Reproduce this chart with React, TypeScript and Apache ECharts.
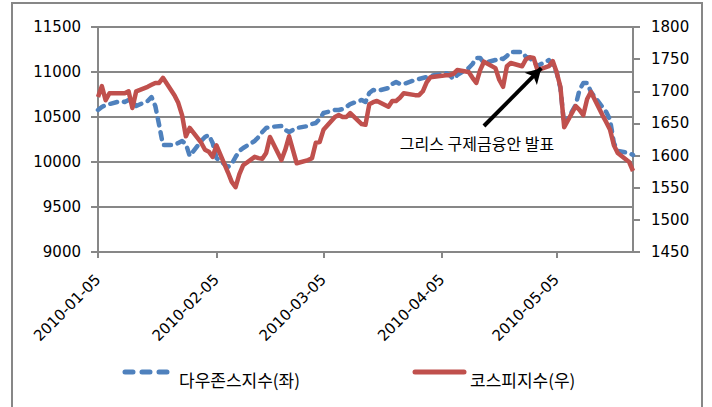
import React, { useEffect, useRef } from 'react';
import * as echarts from 'echarts';

// Calendar range of the date axis and the label day (every month's 5th)
const axisStart = [2010, 0, 5];
const axisEnd = [2010, 4, 25];
const labelDay = '05';

// Dow Jones (left axis) closing values, trading days by month
const dowJan = [10578, 10611, 10633, 10644, 10678, 10667, 10689, 10678, 10622, 10678, 10722, 10622, 10411, 10189, 10189, 10211, 10233, 10200, 10067];
const dowFeb = [10233, 10278, 10300, 10211, 10044, 9944, 9978, 10056, 10122, 10156, 10233, 10278, 10333, 10378, 10389, 10400, 10356, 10333, 10356, 10378];
const dowMar = [10400, 10422, 10433, 10478, 10544, 10578, 10578, 10589, 10611, 10644, 10689, 10667, 10767, 10800, 10789, 10822, 10867, 10889, 10867, 10867, 10911, 10922, 10933];
const dowApr = [10944, 10956, 10978, 10989, 10967, 10922, 10967, 11044, 11089, 11156, 11156, 11100, 11133, 11156, 11144, 11178, 11222, 11222, 11167, 11156, 11111, 11067];
const dowMay = [11133, 11078, 11000, 10822, 10411, 10633, 10800, 10878, 10878, 10778, 10611, 10556, 10467, 10211, 10122, 10100, 10078];

// KOSPI (right axis)
const kospiJan = [1691, 1708, 1686, 1697, 1697, 1697, 1700, 1674, 1700, 1707, 1710, 1713, 1713, 1721, 1694, 1682, 1663, 1630, 1643];
const kospiFeb = [1620, 1609, 1606, 1598, 1616, 1574, 1559, 1551, 1571, 1585, 1598, 1596, 1595, 1604, 1629, 1593, 1609, 1630, 1609, 1588];
const kospiMar = [1593, 1596, 1620, 1621, 1640, 1660, 1663, 1660, 1660, 1666, 1649, 1648, 1680, 1683, 1685, 1676, 1685, 1685, 1690, 1697, 1694, 1694, 1700];
const kospiApr = [1714, 1722, 1724, 1725, 1725, 1727, 1733, 1730, 1721, 1713, 1733, 1746, 1736, 1718, 1707, 1739, 1744, 1739, 1750, 1753, 1752, 1733];
const kospiMay = [1739, 1747, 1730, 1707, 1644, 1677, 1671, 1663, 1688, 1699, 1663, 1652, 1640, 1616, 1604, 1590, 1576];

const seriesNames = ['다우존스지수(좌)', '코스피지수(우)'];
const annotationText = '그리스 구제금융안 발표';
const arrowFrom = ['2010-04-16', 1646];
const arrowTo = ['2010-05-01', 1736];

const leftTicks = { min: 9000, max: 11500, interval: 500 };
const rightTicks = { min: 1450, max: 1800, interval: 50 };

const BLUE = '#4F81BD';
const RED = '#C0504D';
const GRAY = '#878787';

function buildCalendar(): string[] {
  const out: string[] = [];
  let t = Date.UTC(axisStart[0], axisStart[1], axisStart[2]);
  const e = Date.UTC(axisEnd[0], axisEnd[1], axisEnd[2]);
  while (t <= e) {
    out.push(new Date(t).toISOString().slice(0, 10));
    t += 86400000;
  }
  return out;
}

export default function App() {
  const ref = useRef<HTMLDivElement>(null);
  useEffect(() => {
    if (!ref.current) return;
    const chart = echarts.init(ref.current, undefined, { renderer: 'svg' });
    const calendar = buildCalendar();
    const tradingDays = calendar.filter((d) => {
      const w = new Date(d + 'T00:00:00Z').getUTCDay();
      return w !== 0 && w !== 6;
    });
    const dow = [...dowJan, ...dowFeb, ...dowMar, ...dowApr, ...dowMay];
    const kospi = [...kospiJan, ...kospiFeb, ...kospiMar, ...kospiApr, ...kospiMay];
    const isLabelDay = (_i: number, v: string) => v.slice(8) === labelDay;
    const numFont = { fontFamily: 'DejaVu Sans', fontSize: 15, color: '#000' };
    const plain = (v: number) => String(v);

    chart.setOption({
      animation: false,
      backgroundColor: '#fff',
      grid: { left: 98, right: 79, top: 27, bottom: 155, containLabel: false },
      xAxis: {
        type: 'category',
        data: calendar,
        boundaryGap: false,
        axisLine: { lineStyle: { color: GRAY, width: 2 } },
        axisTick: { interval: isLabelDay, length: 6, lineStyle: { color: GRAY, width: 2 } },
        axisLabel: { interval: isLabelDay, rotate: 45, margin: 25, ...numFont },
        splitLine: { show: false },
      },
      yAxis: [
        {
          type: 'value',
          position: 'left',
          ...leftTicks,
          axisLine: { show: true, lineStyle: { color: GRAY, width: 2 } },
          axisTick: { show: true, length: 7, lineStyle: { color: GRAY, width: 2 } },
          axisLabel: { margin: 17, formatter: plain, ...numFont },
          splitLine: { show: true, lineStyle: { color: GRAY, width: 2 } },
        },
        {
          type: 'value',
          position: 'right',
          ...rightTicks,
          axisLine: { show: true, lineStyle: { color: GRAY, width: 2 } },
          axisTick: { show: true, length: 7, lineStyle: { color: GRAY, width: 2 } },
          axisLabel: { margin: 18, formatter: plain, ...numFont },
          splitLine: { show: false },
        },
      ],
      series: [
        {
          name: seriesNames[0],
          type: 'line',
          yAxisIndex: 0,
          data: tradingDays.map((d, i) => [d, dow[i]]),
          symbol: 'none',
          lineStyle: { color: BLUE, width: 4.5, type: [7, 7], cap: 'round', join: 'round' },
          z: 2,
        },
        {
          name: seriesNames[1],
          type: 'line',
          yAxisIndex: 1,
          data: tradingDays.map((d, i) => [d, kospi[i]]),
          symbol: 'none',
          lineStyle: { color: RED, width: 4.5, join: 'round' },
          z: 3,
          markLine: {
            silent: true,
            symbol: ['none', 'arrow'],
            symbolSize: [13, 15],
            label: { show: false },
            lineStyle: { color: '#000', width: 4, type: 'solid' },
            data: [[{ coord: arrowFrom }, { coord: arrowTo }]],
          },
        },
      ],
      graphic: [
        {
          type: 'rect',
          shape: { x: 12, y: 3, width: 690, height: 420 },
          style: { fill: 'none', stroke: GRAY, lineWidth: 2 },
          silent: true,
        },
        {
          type: 'text',
          x: 477,
          y: 143,
          style: {
            text: annotationText,
            fontFamily: 'Noto Sans CJK KR',
            fontSize: 16,
            fill: '#000',
            textAlign: 'center',
            textVerticalAlign: 'middle',
          },
        },
        {
          type: 'line',
          shape: { x1: 125, y1: 372, x2: 167, y2: 372 },
          style: { stroke: BLUE, lineWidth: 5, lineDash: [8, 9], lineCap: 'round' },
        },
        {
          type: 'text',
          x: 179,
          y: 379,
          style: {
            text: seriesNames[0],
            fontFamily: 'Noto Sans CJK KR',
            fontSize: 17,
            fill: '#000',
            textAlign: 'left',
            textVerticalAlign: 'middle',
          },
        },
        {
          type: 'line',
          shape: { x1: 415, y1: 372, x2: 464, y2: 372 },
          style: { stroke: RED, lineWidth: 5, lineCap: 'round' },
        },
        {
          type: 'text',
          x: 470,
          y: 379,
          style: {
            text: seriesNames[1],
            fontFamily: 'Noto Sans CJK KR',
            fontSize: 17,
            fill: '#000',
            textAlign: 'left',
            textVerticalAlign: 'middle',
          },
        },
      ],
    });
    return () => chart.dispose();
  }, []);
  return (
    <div
      ref={ref}
      style={{ position: 'fixed', left: 0, top: 0, width: 712, height: 407, background: '#fff' }}
    />
  );
}
